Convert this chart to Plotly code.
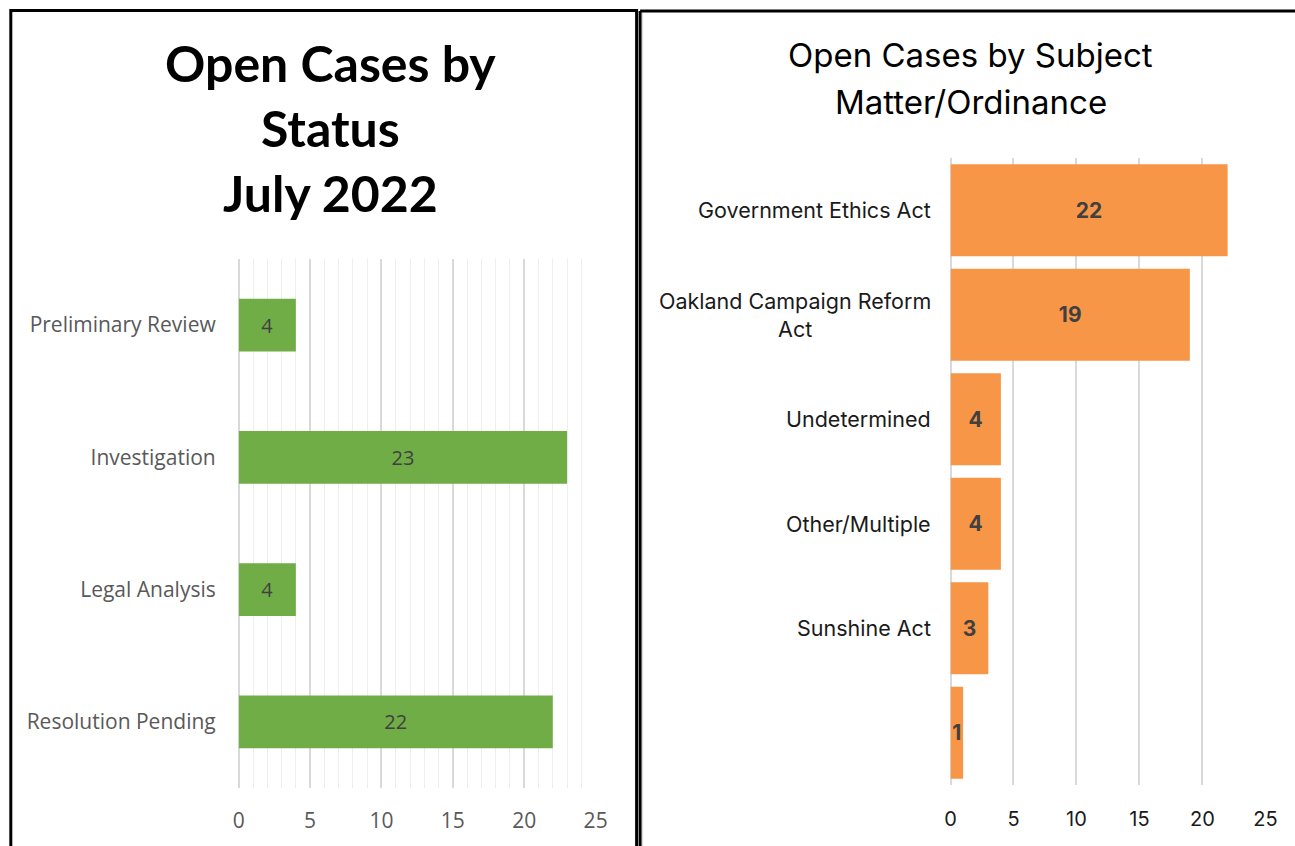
import plotly.graph_objects as go

W, H = 1295, 846

# ---- data ----
status_categories = ["Preliminary Review", "Investigation", "Legal Analysis", "Resolution Pending"]
status_values = [4, 23, 4, 22]

subject_categories = ["Government Ethics Act", "Oakland Campaign Reform<br>Act", "Undetermined",
                      "Other/Multiple", "Sunshine Act", "(blank)"]
subject_labels = ["Government Ethics Act", "Oakland Campaign Reform<br>Act", "Undetermined",
                  "Other/Multiple", "Sunshine Act", ""]
subject_values = [22, 19, 4, 4, 3, 1]

x_ticks = [0, 5, 10, 15, 20, 25]

left_title = ["Open Cases by", "Status", "July 2022"]
right_title = ["Open Cases by Subject", "Matter/Ordinance"]

# horizontal correction for the capture (observed: shown = 0.9864*x + 5.2)
SX, OX = 0.9864, 5.2


def px(x):
    return ((x - OX) / SX) / W


def py(y):
    return 1 - y / H


TITLE_FONT = "Lato, 'Open Sans', sans-serif"
LEFT_FONT = "'Open Sans', Lato, sans-serif"
RIGHT_FONT = "Inter, 'Noto Sans', sans-serif"

fig = go.Figure()

fig.add_trace(go.Bar(
    x=status_values, y=status_categories, orientation="h",
    marker=dict(color="#70AD47", line=dict(width=0)),
    width=0.4,
    text=[str(v) for v in status_values], textposition="inside",
    insidetextanchor="middle",
    textfont=dict(family=LEFT_FONT, size=20, color="#404040"),
    xaxis="x", yaxis="y", showlegend=False, hoverinfo="skip",
))

fig.add_trace(go.Bar(
    x=subject_values, y=subject_categories, orientation="h",
    marker=dict(color="#F79646", line=dict(width=0)),
    width=0.88,
    text=[str(v) for v in subject_values], textposition="inside",
    insidetextanchor="middle", constraintext="none",
    textfont=dict(family=RIGHT_FONT, size=21, color="#404040", weight="bold"),
    xaxis="x2", yaxis="y2", showlegend=False, hoverinfo="skip",
))

fig.update_layout(
    height=H,
    autosize=True,
    margin=dict(l=0, r=0, t=0, b=0),
    paper_bgcolor="white", plot_bgcolor="white",
    xaxis=dict(
        domain=[px(238), px(595)], range=[0, 25], anchor="y",
        tickvals=x_ticks, showgrid=True, gridcolor="#d9d9d9", gridwidth=1.5,
        minor=dict(dtick=1, showgrid=True, gridcolor="#eeeeee", gridwidth=1),
        zeroline=True, zerolinecolor="#d9d9d9", zerolinewidth=1.5,
        showline=False, ticks="", ticklabelstandoff=18,
        tickfont=dict(family=LEFT_FONT, size=21, color="#595959"),
        fixedrange=True,
    ),
    yaxis=dict(
        domain=[py(788), py(259)], anchor="x",
        categoryorder="array", categoryarray=status_categories,
        autorange="reversed", showgrid=False, zeroline=False, showline=False,
        ticks="", ticklabelstandoff=22,
        tickfont=dict(family=LEFT_FONT, size=21, color="#595959"),
        fixedrange=True,
    ),
    xaxis2=dict(
        domain=[px(950), px(1265)], range=[0, 25], anchor="y2",
        tickvals=x_ticks, showgrid=True, gridcolor="#d9d9d9", gridwidth=2,
        zeroline=True, zerolinecolor="#d9d9d9", zerolinewidth=2,
        showline=False, ticks="", ticklabelstandoff=20,
        tickfont=dict(family=RIGHT_FONT, size=20, color="#1a1a1a"),
        fixedrange=True,
    ),
    yaxis2=dict(
        domain=[py(785), py(158)], anchor="x2",
        categoryorder="array", categoryarray=subject_categories,
        autorange="reversed", showgrid=False, zeroline=False, showline=False,
        showticklabels=False, ticks="",
        fixedrange=True,
    ),
)

annotations = []
for line, yc in zip(left_title, [63, 128, 193]):
    annotations.append(dict(
        text=f"<b>{line}</b>", x=px(330), y=py(yc), xref="paper", yref="paper",
        xanchor="center", yanchor="middle", showarrow=False,
        font=dict(family=TITLE_FONT, size=50, color="black"),
    ))
for line, yc in zip(right_title, [55, 102]):
    annotations.append(dict(
        text=line, x=px(970), y=py(yc), xref="paper", yref="paper",
        xanchor="center", yanchor="middle", showarrow=False,
        font=dict(family=RIGHT_FONT, size=33, color="black"),
    ))
for cat, lab in zip(subject_categories, subject_labels):
    if not lab:
        continue
    annotations.append(dict(
        text=lab, x=px(932), y=cat, xref="paper", yref="y2",
        xanchor="right", yanchor="middle", align="center", showarrow=False,
        font=dict(family=RIGHT_FONT, size=21.5, color="#1a1a1a"),
    ))
fig.update_layout(annotations=annotations)

shapes = [
    dict(type="rect", xref="paper", yref="paper", x0=px(10), x1=px(636), y0=py(860), y1=py(10.5),
         line=dict(color="black", width=3)),
    dict(type="line", xref="paper", yref="paper", x0=px(639.5), x1=px(1320), y0=py(11), y1=py(11),
         line=dict(color="black", width=3)),
    dict(type="line", xref="paper", yref="paper", x0=px(639.5), x1=px(639.5), y0=py(860), y1=py(11),
         line=dict(color="black", width=3)),
    dict(type="line", xref="paper", yref="paper", x0=px(642), x1=px(642), y0=py(860), y1=py(13),
         line=dict(color="#d9d9d9", width=1)),
]
fig.update_layout(shapes=shapes)

fig.write_html(
    "out.html",
    config=dict(displayModeBar=False, responsive=True),
    default_width="100%",
    post_script=(
        "document.body.style.margin='0';document.body.style.overflow='hidden';"
        "Plotly.Plots.resize(document.getElementById('{plot_id}'));"
    ),
)
